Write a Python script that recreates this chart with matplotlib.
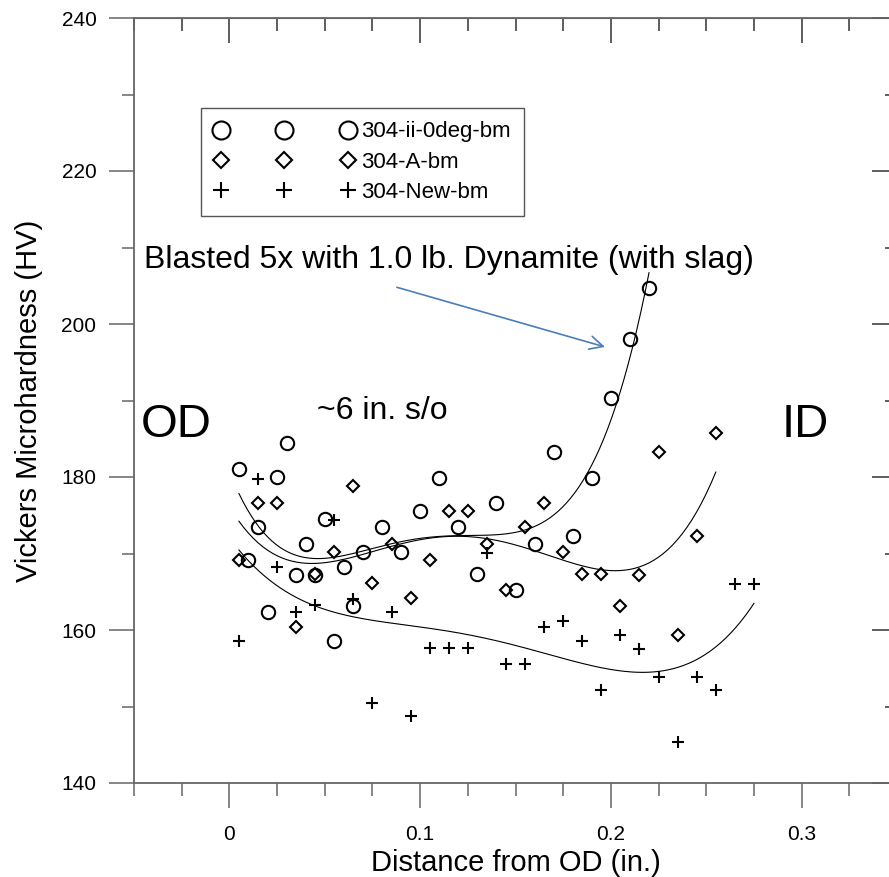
import numpy as np
import matplotlib
matplotlib.use('Agg')
import matplotlib.pyplot as plt
from matplotlib.ticker import MultipleLocator

plt.rcParams['font.family'] = ['Liberation Sans', 'DejaVu Sans']

# 304-ii-0deg-bm (circles)
x_ii = [0.005, 0.010, 0.015, 0.020, 0.025, 0.030, 0.035, 0.040, 0.045, 0.050,
        0.055, 0.060, 0.065, 0.070, 0.080, 0.090, 0.100, 0.110, 0.120, 0.130,
        0.140, 0.150, 0.160, 0.170, 0.180, 0.190, 0.200, 0.210, 0.220]
hv_ii = [181.0, 169.2, 173.4, 162.3, 180.0, 184.5, 167.2, 171.3, 167.2, 174.5,
         158.5, 168.3, 163.2, 170.2, 173.4, 170.2, 175.6, 179.9, 173.4, 167.3,
         176.6, 165.2, 171.3, 183.3, 172.3, 179.9, 190.3, 198.0, 204.7]

# 304-A-bm (diamonds)
x_a = [0.005, 0.015, 0.025, 0.035, 0.045, 0.055, 0.065, 0.075, 0.085, 0.095,
       0.105, 0.115, 0.125, 0.135, 0.145, 0.155, 0.165, 0.175, 0.185, 0.195,
       0.205, 0.215, 0.225, 0.235, 0.245, 0.255]
hv_a = [169.2, 176.6, 176.6, 160.4, 167.3, 170.2, 178.8, 166.2, 171.3, 164.2,
        169.2, 175.6, 175.6, 171.3, 165.2, 173.4, 176.6, 170.2, 167.3, 167.3,
        163.2, 167.2, 183.3, 159.4, 172.3, 185.7]

# 304-New-bm (plus)
x_new = [0.005, 0.015, 0.025, 0.035, 0.045, 0.055, 0.065, 0.075, 0.085, 0.095,
         0.105, 0.115, 0.125, 0.135, 0.145, 0.155, 0.165, 0.175, 0.185, 0.195,
         0.205, 0.215, 0.225, 0.235, 0.245, 0.255, 0.265, 0.275]
hv_new = [158.6, 179.8, 168.2, 162.3, 163.3, 174.4, 164.1, 150.5, 162.3, 148.8,
          157.6, 157.6, 157.6, 170.1, 155.6, 155.6, 160.4, 161.2, 158.5, 152.2,
          159.4, 157.5, 153.9, 145.3, 153.9, 152.2, 166.0, 166.0]

W, H = 889, 877
fig = plt.figure(figsize=(W / 100, H / 100), dpi=100)
ax = fig.add_axes([134 / W, 1 - 783 / H, 763 / W, 765 / H])

series = [
    (x_ii, hv_ii, 'o', 9.6, '304-ii-0deg-bm'),
    (x_a, hv_a, 'D', 6.4, '304-A-bm'),
    (x_new, hv_new, '+', 9.0, '304-New-bm'),
]

for xs, ys, mk, ms, lab in series:
    ax.plot(xs, ys, linestyle='none', marker=mk, ms=ms, mfc='none', mec='black',
            mew=1.5, label=lab)
    # polynomial fit through the points
    coef = np.polyfit(xs, ys, 4)
    xx = np.linspace(min(xs), max(xs), 200)
    ax.plot(xx, np.polyval(coef, xx), color='black', lw=0.8)

ax.set_xlim(-0.05, 0.35)
ax.set_ylim(140, 240)
ax.xaxis.set_major_locator(MultipleLocator(0.1))
ax.xaxis.set_minor_locator(MultipleLocator(0.025))
ax.yaxis.set_major_locator(MultipleLocator(20))
ax.yaxis.set_minor_locator(MultipleLocator(10))
ax.set_xticks([0, 0.1, 0.2, 0.3])
ax.set_xticklabels(['0', '0.1', '0.2', '0.3'])

spine_c = '#666666'
for s in ax.spines.values():
    s.set_color(spine_c)
    s.set_linewidth(1.3)

ax.tick_params(which='both', direction='out', color=spine_c, width=1.1,
               labelsize=15)
ax.tick_params(axis='y', pad=9)
ax.tick_params(axis='x', pad=12)
ax.tick_params(which='major', length=18)
ax.tick_params(which='minor', length=9)
# inward ticks on top and right
axt = ax.secondary_xaxis('top')
axt.xaxis.set_major_locator(MultipleLocator(0.1))
axt.xaxis.set_minor_locator(MultipleLocator(0.025))
axt.tick_params(which='both', direction='in', color='#333333', width=1.1,
                labeltop=False)
axt.tick_params(which='major', length=18)
axt.tick_params(which='minor', length=9)
axt.spines['top'].set_color(spine_c)
axr = ax.secondary_yaxis('right')
axr.yaxis.set_major_locator(MultipleLocator(20))
axr.yaxis.set_minor_locator(MultipleLocator(10))
axr.tick_params(which='both', direction='in', color='#333333', width=1.1,
                labelright=False)
axr.tick_params(which='major', length=18)
axr.tick_params(which='minor', length=9)

ax.set_xlabel('Distance from OD (in.)', fontsize=21, labelpad=4)
ax.set_ylabel('Vickers Microhardness (HV)', fontsize=21, labelpad=13)

leg = ax.legend(loc='upper left', bbox_to_anchor=(201 / W, 1 - 108 / H),
                bbox_transform=fig.transFigure, numpoints=3, handlelength=6.3,
                handletextpad=0.32, borderpad=0.6, labelspacing=0.42,
                fontsize=16, markerscale=1.35, fancybox=False, framealpha=1,
                borderaxespad=0)
leg.get_frame().set_edgecolor('#555555')
leg.get_frame().set_linewidth(1.0)

ax.text(-0.028, 185.2, 'OD', fontsize=34, ha='center', va='baseline')
ax.text(0.302, 185.2, 'ID', fontsize=34, ha='center', va='baseline')
ax.text(0.080, 187.6, '~6 in. s/o', fontsize=23, ha='center', va='baseline')
ax.text(0.115, 207.3, 'Blasted 5x with 1.0 lb. Dynamite (with slag)',
        fontsize=23, ha='center', va='baseline')
ax.annotate('', xy=(0.1969, 197.0), xytext=(0.0878, 204.8),
            arrowprops=dict(arrowstyle='->', color='#4a7ebb', lw=1.2,
                            mutation_scale=24, shrinkA=0, shrinkB=0))

fig.savefig('out.png', dpi=100)
